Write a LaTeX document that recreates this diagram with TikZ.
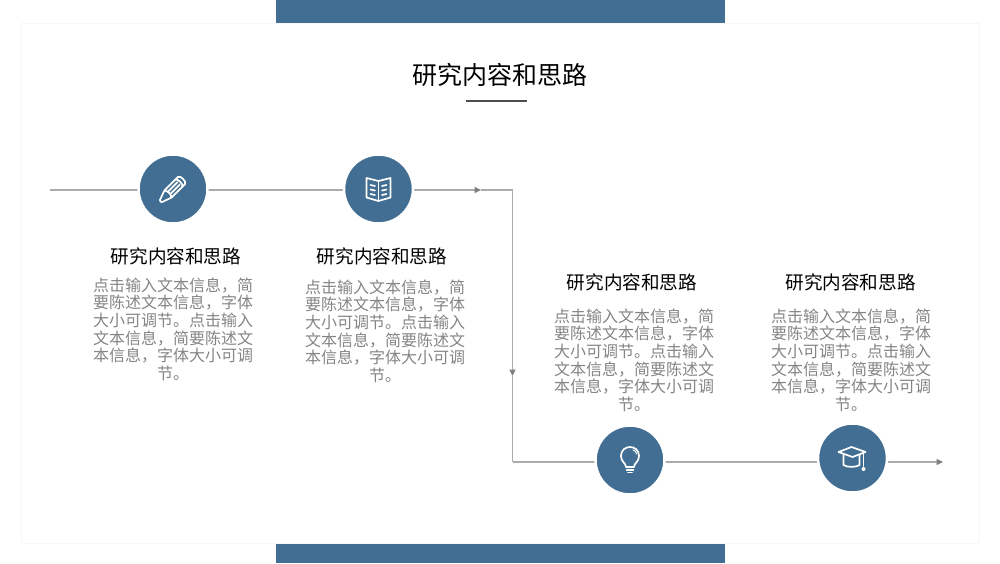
\documentclass[tikz,border=0pt]{standalone}
\usepackage{fontspec}
\setmainfont{Noto Sans CJK SC}
\usetikzlibrary{arrows.meta}
\definecolor{barblue}{HTML}{416E92}
\definecolor{bodygray}{HTML}{858585}
\definecolor{linegray}{HTML}{ABABAB}
\definecolor{tipgray}{HTML}{7F7F7F}
\definecolor{panelgray}{HTML}{F7F7F7}
\tikzset{
  stepcircle/.style={circle,fill=barblue,draw=white,line width=2.5pt,minimum size=69pt,inner sep=0pt},
  steptitle/.style={anchor=center,align=center,inner sep=0pt,font=\fontsize{18.6}{22}\selectfont},
  stepbody/.style={anchor=north,align=center,inner sep=0pt,text=bodygray,font=\fontsize{16}{17.6}\selectfont},
  flow/.style={draw=linegray,line width=1.1pt},
  flowtip/.style={flow,-{Triangle[length=6.5pt,width=6pt,color=tipgray]}},
  icon/.style={draw=white,line width=1.7pt,line join=round,line cap=round}
}
\begin{document}
\begin{tikzpicture}[x=1pt,y=-1pt]
\useasboundingbox (0,0) rectangle (1000,563);

% Background
      \fill[white] (0,0) rectangle (1000,563);
      \fill[barblue] (276,0) rectangle (724.5,23);
      \fill[barblue] (276,543) rectangle (724.5,563);
      \draw[draw=panelgray,line width=1pt] (21,23.5) rectangle (979,543);

% Title
      \node[inner sep=0pt,font=\fontsize{25}{30}\selectfont] (title) at (500,75) {研究内容和思路};
      \draw[draw=black!70,line width=2pt] (466,101) -- (527,101);

% Connectors
      \coordinate (start) at (50,190);
      \coordinate (tipa) at (481,190);
      \coordinate (corner) at (512.5,190);
      \coordinate (tipb) at (512.5,376);
      \coordinate (bend) at (512.5,462);
      \coordinate (finish) at (943,462);
      \draw[flowtip] (start) -- (tipa);
      \draw[flow] (tipa) -- (corner);
      \draw[flowtip] (corner) -- (tipb);
      \draw[flow] (tipb) -- (bend);
      \draw[flowtip] (bend) -- (finish);

% Circles
      \node[stepcircle] (pencil) at (173,189) {};
      \node[stepcircle] (book) at (378.5,189) {};
      \node[stepcircle] (bulb) at (630,460) {};
      \node[stepcircle] (cap) at (852.5,458) {};

% Pencil
      \begin{scope}[shift={(pencil.center)},rotate=45,icon]
        \draw (-7,-5) -- (12,-5) .. controls (15,-5) and (15,5) .. (12,5) -- (-7,5) -- (-17,1.5) .. controls (-18,0.5) and (-18,-0.5) .. (-17,-1.5) -- cycle;
        \draw (8,-5) .. controls (11,-5) and (11,5) .. (8,5);
        \draw (-7,-5) .. controls (-5,-2) and (-5,2) .. (-7,5);
        \draw (-5,-1.7) -- (8,-1.7);
        \draw (-5,1.7) -- (8,1.7);
      \end{scope}

% Book
      \begin{scope}[shift={(book.center)},icon]
        \draw (-12,-11) -- (0,-8) -- (12,-11) -- (12,8.5) -- (0,12) -- (-12,8.5) -- cycle;
        \draw (0,-8) -- (0,12);
        \foreach \rowy in {-3,1.5,6}{
          \draw (-8,\rowy-1) -- (-3.5,\rowy);
          \draw (8,\rowy-1) -- (3.5,\rowy);
        }
      \end{scope}

% Bulb
      \begin{scope}[shift={(bulb.center)},icon]
        \draw (-4,7) .. controls (-4,3) and (-9,2) .. (-9,-4) .. controls (-9,-16) and (9,-16) .. (9,-4) .. controls (9,2) and (4,3) .. (4,7) -- cycle;
        \draw[line width=1pt] (3,-10) .. controls (5,-9.5) and (6.5,-8) .. (6.7,-6);
        \draw (-3.5,10) -- (3.5,10);
        \draw (-2,12.5) -- (2,12.5);
      \end{scope}

% Cap
      \begin{scope}[shift={(cap.center)},icon]
        \draw (-14,-6) -- (-1,-11) -- (13,-6) -- (0,-1) -- cycle;
        \draw (-9,-3) -- (-9,7) .. controls (-6,9.5) and (4,9.5) .. (7,7) -- (7,-3);
        \draw (11,-5) -- (11,8);
        \fill[white] (11,11) circle[radius=2];
      \end{scope}

% Labels
      \node[steptitle] (titlea) at (176,256) {研究内容和思路};
      \node[stepbody] (bodya) at (173,277.5) {点击输入文本信息，简\\要陈述文本信息，字体\\大小可调节。点击输入\\文本信息，简要陈述文\\本信息，字体大小可调\\节。};
      \node[steptitle] (titleb) at (382,256) {研究内容和思路};
      \node[stepbody] (bodyb) at (385,279.5) {点击输入文本信息，简\\要陈述文本信息，字体\\大小可调节。点击输入\\文本信息，简要陈述文\\本信息，字体大小可调\\节。};
      \node[steptitle] (titlec) at (632,282) {研究内容和思路};
      \node[stepbody] (bodyc) at (634,308.5) {点击输入文本信息，简\\要陈述文本信息，字体\\大小可调节。点击输入\\文本信息，简要陈述文\\本信息，字体大小可调\\节。};
      \node[steptitle] (titled) at (850.5,282) {研究内容和思路};
      \node[stepbody] (bodyd) at (851,308.5) {点击输入文本信息，简\\要陈述文本信息，字体\\大小可调节。点击输入\\文本信息，简要陈述文\\本信息，字体大小可调\\节。};

\end{tikzpicture}
\end{document}
